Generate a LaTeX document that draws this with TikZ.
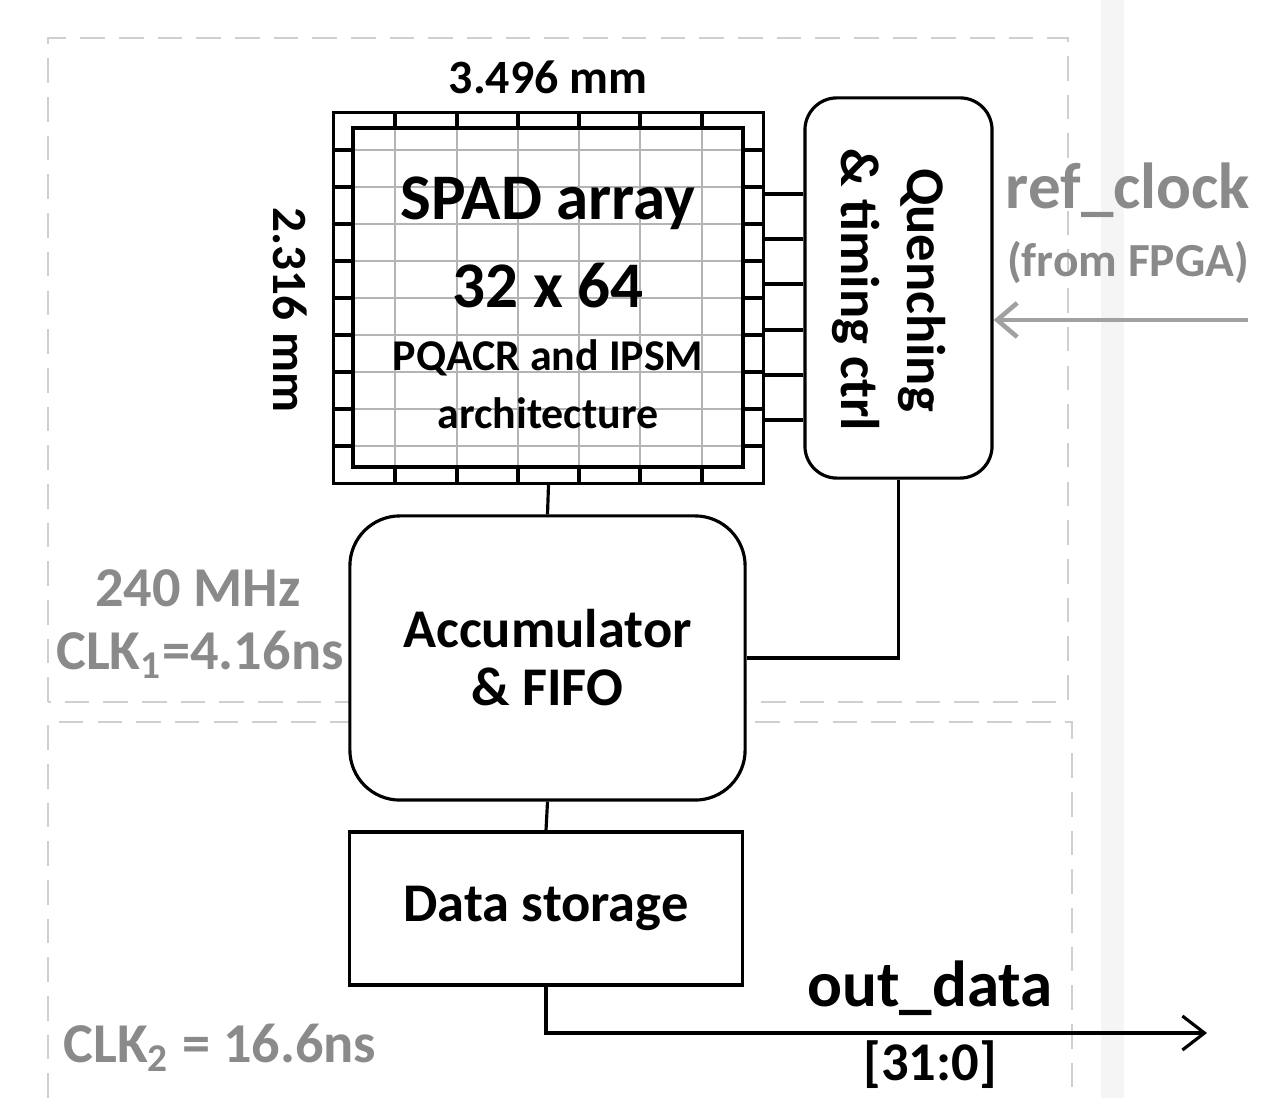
\documentclass[tikz,border=0pt]{standalone}
\usepackage{fontspec}
\setmainfont{Carlito}
\usetikzlibrary{positioning,arrows.meta}
\definecolor{labgray}{HTML}{8A8A8A}
\definecolor{dashgray}{HTML}{CFCFCF}
\definecolor{cellgray}{HTML}{B4B4B4}
\newcommand{\fsz}[1]{\bfseries\fontsize{#1}{#1}\selectfont}
\tikzset{
  blk/.style={draw, line width=0.9pt, fill=white, align=center},
  wire/.style={line width=0.9pt},
  zone/.style={dashgray, line width=0.8pt, dash pattern=on 7pt off 4pt},
  graylab/.style={labgray, align=center},
}

\begin{document}
\begin{tikzpicture}[x=0.01cm, y=-0.01cm]
	 \useasboundingbox (0,0) rectangle (1267,1098);
	 \fill[gray!8] (1101,0) rectangle (1124,1098);
	 % clock domains
	 \draw[zone] (48,702) -- (48,38) -- (1068,38) -- (1068,702) -- cycle;
	 \draw[zone] (48,1098) -- (48,722) -- (1072,722) -- (1072,1098);
	 % SPAD array
	 \node[blk, minimum width=4.29cm, minimum height=3.70cm] (spad) at (548.5,298) {};
	 \foreach \x in {395,457,518,579,640,702} {
	    \draw[cellgray, line width=0.6pt] (\x,128) -- (\x,467);
	    \draw[wire] (\x,113) -- (\x,128);
	    \draw[wire] (\x,467) -- (\x,483);
	 }
	 \foreach \y in {150,187,224,261,298,335,372,409,446} {
	    \draw[cellgray, line width=0.6pt] (353,\y) -- (743,\y);
	    \draw[wire] (334,\y) -- (353,\y);
	    \draw[wire] (743,\y) -- (763,\y);
	 }
	 \draw[wire] (353,128) rectangle (743,467);
	 \node (spadname) at (548,203) {\fsz{18.5}SPAD array};
	 \node (spadsize) at (548,286) {\fsz{18.5}32 x 64};
	 \node (spadarch) at (548,358) {\fsz{12.5}PQACR and IPSM};
	 \node (spadarch2) at (548,413) {\fsz{12.5}architecture};
	 \node (width) at (548,77) {\fsz{13.6}3.496 mm};
	 \node[rotate=-90] (height) at (290,310) {\fsz{14}2.316 mm};
	 % blocks
	 \node[blk, rounded corners=0.32cm, minimum width=1.87cm, minimum height=3.80cm] (quench) at (898.5,288) {};
	 \node[rotate=-90, align=center, font=\bfseries\fontsize{15.5}{19}\selectfont]
	    (quenchtxt) at (889,290) {Quenching\\\& timing ctrl};
	 \node[blk, rounded corners=0.5cm, minimum width=3.95cm, minimum height=2.84cm,
	    font=\bfseries\fontsize{15.5}{16.5}\selectfont] (acc) at (547.5,658) {Accumulator\\\& FIFO};
	 \node[blk, minimum width=3.92cm, minimum height=1.53cm,
	    font=\fsz{15.5}] (store) at (546,908.5) {Data storage};
	 % wires
	 \foreach \y in {194,239,284,330,375,420} {
	    \coordinate (w) at (0,\y);
	    \draw[wire] (spad.east |- w) -- (quench.west |- w);
	 }
	 \draw[wire] (spad.south) -- (acc.north);
	 \draw[wire] (acc.south) -- (store.north);
	 \draw[wire] (quench.south) |- (acc.east);
	 \coordinate (outend) at (1207,1033);
	 \draw[wire, -{Straight Barb[length=0.22cm, width=0.34cm, line width=0.9pt]}] (store.south) |- (outend);
	 \coordinate (clkin) at (1248,320);
	 \draw[labgray!80, line width=1.3pt, -{Straight Barb[length=0.2cm, width=0.34cm, line width=1.3pt]}]
	    (clkin) -- (quench.east |- clkin);
	 % labels
	 \node[graylab] (clkname) at (1128,190) {\fsz{18.5}ref\_clock};
	 \node[graylab] (clkfrom) at (1128,262) {\fsz{13.5}(from FPGA)};
	 \node (outname) at (930,988) {\fsz{18.5}out\_data};
	 \node (outbits) at (930,1065) {\fsz{15.5}[31:0]};
	 \node[graylab] (freq) at (198,588) {\fsz{16}240 MHz};
	 \node[graylab] (clkone) at (200,655) {\fsz{16}CLK\textsubscript{1}=4.16ns};
	 \node[graylab] (clktwo) at (220,1048) {\fsz{16}CLK\textsubscript{2} = 16.6ns};
      \end{tikzpicture}
\end{document}
